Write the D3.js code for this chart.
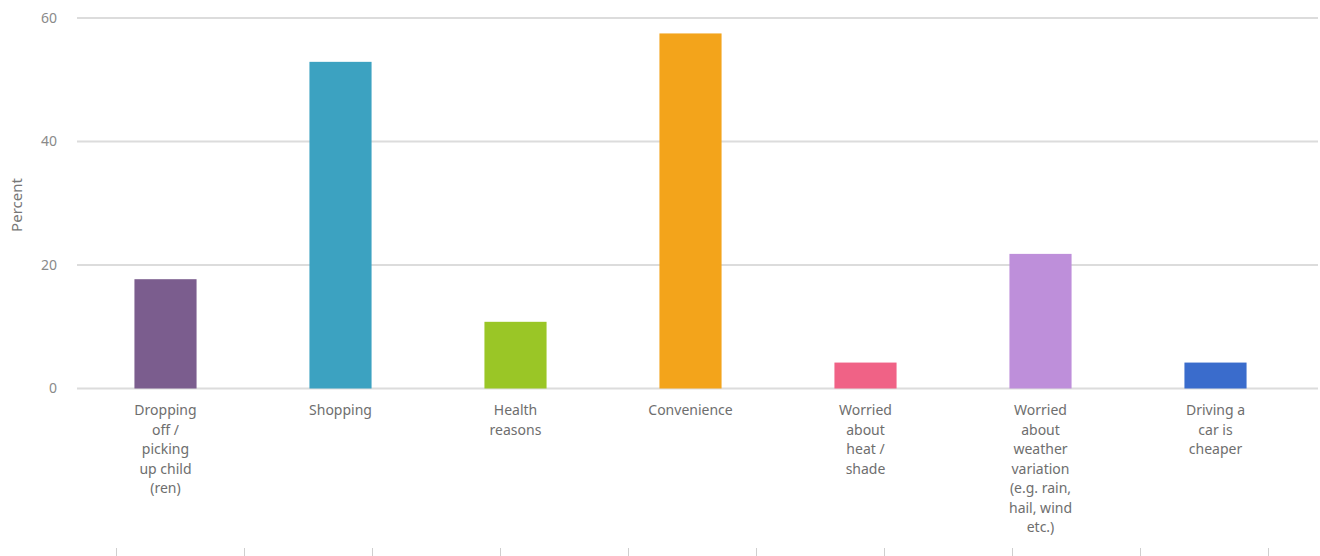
<!DOCTYPE html>
<html>
<head>
<meta charset="utf-8">
<script src="https://cdn.jsdelivr.net/npm/d3@7"></script>
<style>
  html, body { margin: 0; padding: 0; background: #fff; }
  svg { display: block; font-family: "Noto Sans", "Open Sans", sans-serif; }
</style>
</head>
<body>
<svg id="chart" width="1320" height="556"></svg>
<script>
// Reasons for driving instead of other modes (percent of respondents)
const categories = [
  "Dropping off / picking up child (ren)",
  "Shopping",
  "Health reasons",
  "Convenience",
  "Worried about heat / shade",
  "Worried about weather variation (e.g. rain, hail, wind etc.)",
  "Driving a car is cheaper"
];
const labelLines = [
  ["Dropping", "off /", "picking", "up child", "(ren)"],
  ["Shopping"],
  ["Health", "reasons"],
  ["Convenience"],
  ["Worried", "about", "heat /", "shade"],
  ["Worried", "about", "weather", "variation", "(e.g. rain,", "hail, wind", "etc.)"],
  ["Driving a", "car is", "cheaper"]
];
const values = [17.7, 52.9, 10.8, 57.5, 4.2, 21.8, 4.2];
const colors = ["#7b5d8e", "#3ca2c1", "#9ac626", "#f3a41b", "#f06286", "#be8fda", "#3a6ccc"];
const yTicks = [0, 20, 40, 60];

const svg = d3.select("#chart");

const x = d3.scaleBand()
  .domain(categories)
  .range([78, 1303])
  .paddingInner(0.645)
  .paddingOuter(0.3225);

const y = d3.scaleLinear()
  .domain([0, 60])
  .range([388.5, 18]);

// Horizontal gridlines
svg.append("g")
  .selectAll("line")
  .data(yTicks)
  .join("line")
  .attr("x1", 77)
  .attr("x2", 1318)
  .attr("y1", d => y(d))
  .attr("y2", d => y(d))
  .attr("stroke", "#dcdcdc")
  .attr("stroke-width", 2);

// Y tick labels
svg.append("g")
  .selectAll("text")
  .data(yTicks)
  .join("text")
  .attr("x", 57)
  .attr("y", d => y(d))
  .attr("dy", "0.35em")
  .attr("text-anchor", "end")
  .attr("fill", "#8a8a8a")
  .attr("font-size", 14)
  .text(d => d);

// Y axis title
svg.append("text")
  .attr("transform", "translate(22,205) rotate(-90)")
  .attr("text-anchor", "middle")
  .attr("fill", "#777")
  .attr("font-size", 15)
  .text("Percent");

// Bars
svg.append("g")
  .selectAll("rect")
  .data(values)
  .join("rect")
  .attr("x", (d, i) => x(categories[i]))
  .attr("width", x.bandwidth())
  .attr("y", d => y(d))
  .attr("height", d => y(0) - y(d))
  .attr("fill", (d, i) => colors[i]);

// Category labels (wrapped)
const labels = svg.append("g")
  .selectAll("text")
  .data(categories)
  .join("text")
  .attr("text-anchor", "middle")
  .attr("fill", "#6e6e6e")
  .attr("font-size", 14)
  .attr("x", d => x(d) + x.bandwidth() / 2)
  .attr("y", 415);

labels.each(function(d, i) {
  d3.select(this)
    .selectAll("tspan")
    .data(labelLines[i])
    .join("tspan")
    .attr("x", x(d) + x.bandwidth() / 2)
    .attr("dy", (t, j) => j === 0 ? 0 : 19.5)
    .text(t => t);
});

// Faint tick marks along the bottom edge
const bottom = d3.scaleLinear().domain([0, 9]).range([116, 1268]);
svg.append("g")
  .attr("transform", "translate(0,548)")
  .call(d3.axisBottom(bottom).ticks(10).tickSize(8).tickFormat(""))
  .call(g => g.select(".domain").remove())
  .call(g => g.selectAll(".tick line").attr("stroke", "#cfcfcf"));
</script>
</body>
</html>
